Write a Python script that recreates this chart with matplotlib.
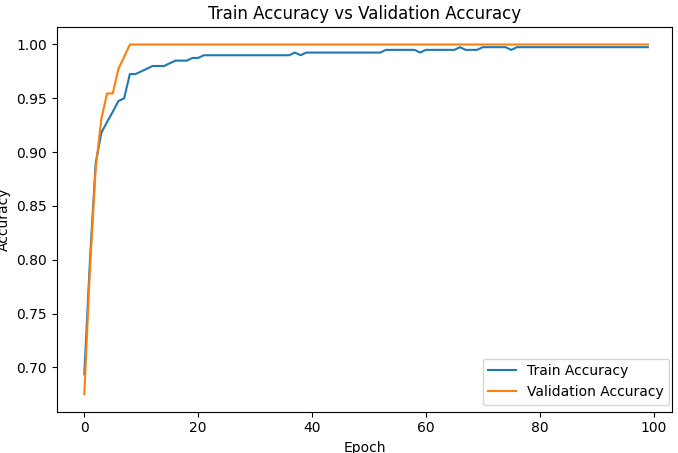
import matplotlib
matplotlib.use("Agg")
import matplotlib.pyplot as plt
import numpy as np

epochs = list(range(100))

train_acc = (
    [0.6935, 0.800, 0.890, 0.918, 0.928, 0.9375, 0.9475, 0.950, 0.9725, 0.9725,
     0.975, 0.9775, 0.980, 0.980, 0.980, 0.9825, 0.985, 0.985, 0.985, 0.9875,
     0.9875]
    + [0.990] * 16            # 21-36
    + [0.9925, 0.990]         # 37, 38
    + [0.9925] * 14           # 39-52
    + [0.995] * 6             # 53-58
    + [0.9925]                # 59
    + [0.995] * 6             # 60-65
    + [0.9975]                # 66
    + [0.995] * 3             # 67-69
    + [0.9975] * 5            # 70-74
    + [0.995]                 # 75
    + [0.9975] * 24           # 76-99
)

val_acc = [0.675, 0.792, 0.885, 0.931, 0.9545, 0.9545, 0.9775, 0.9885] + [1.0] * 92

fig = plt.figure(figsize=(6.78, 4.53), dpi=100)
ax = fig.add_axes([56.7 / 678, (453 - 411.7) / 453, 615.6 / 678, 384.7 / 453])
ax.plot(epochs, train_acc, label="Train Accuracy")
ax.plot(epochs, val_acc, label="Validation Accuracy")
ax.set_xlim(-4.85, 103.3)
ax.set_title("Train Accuracy vs Validation Accuracy")
ax.set_xlabel("Epoch")
ax.set_ylabel("Accuracy")
ax.legend(loc="lower right", bbox_to_anchor=(1.0065, 0.0))
fig.savefig("out.png", dpi=100)
